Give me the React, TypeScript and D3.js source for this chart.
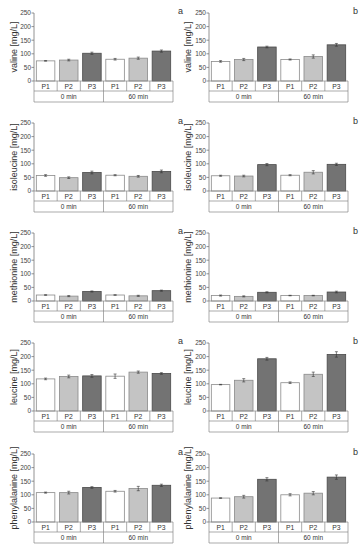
import React from "react";
import * as d3 from "d3";

const times = ["0 min", "60 min"];
const products = ["P1", "P2", "P3"];
const yTicks = [0, 50, 100, 150, 200, 250];
const aminoAcids = ["valine", "isoleucine", "methionine", "leucine", "phenylalanine"];
const panelLetters = ["a", "b"];

// values: [0min P1,P2,P3, 60min P1,P2,P3]
const valineA = [74, 77, 102, 80, 84, 110];
const valineAErr = [1, 3, 4, 3, 4, 4];
const valineB = [72, 79, 125, 79, 90, 133];
const valineBErr = [3, 4, 3, 2, 6, 5];
const isoleucineA = [57, 49, 68, 58, 54, 72];
const isoleucineAErr = [3, 3, 5, 2, 3, 5];
const isoleucineB = [56, 55, 97, 58, 69, 98];
const isoleucineBErr = [2, 3, 4, 2, 6, 4];
const methionineA = [22, 18, 35, 22, 19, 38];
const methionineAErr = [1, 2, 2, 1, 2, 2];
const methionineB = [20, 17, 32, 20, 20, 33];
const methionineBErr = [2, 2, 2, 1, 1, 3];
const leucineA = [118, 127, 129, 128, 143, 138];
const leucineAErr = [3, 5, 5, 8, 4, 3];
const leucineB = [97, 113, 192, 104, 135, 208];
const leucineBErr = [1, 6, 5, 3, 8, 10];
const phenylalanineA = [108, 108, 127, 113, 123, 135];
const phenylalanineAErr = [2, 5, 3, 3, 8, 4];
const phenylalanineB = [88, 93, 157, 100, 106, 165];
const phenylalanineBErr = [1, 5, 6, 4, 6, 8];

const seriesA = [valineA, isoleucineA, methionineA, leucineA, phenylalanineA];
const errA = [valineAErr, isoleucineAErr, methionineAErr, leucineAErr, phenylalanineAErr];
const seriesB = [valineB, isoleucineB, methionineB, leucineB, phenylalanineB];
const errB = [valineBErr, isoleucineBErr, methionineBErr, leucineBErr, phenylalanineBErr];

const fills = ["#ffffff", "#c4c4c4", "#737373"];
const strokes = ["#8a8a8a", "#8a8a8a", "#4a4a4a"];
const FONT = "Liberation Sans, Arial, sans-serif";

function Panel({ name, values, errs, letter, x0, top, titleX }) {
  const width = 139;
  const bottom = top + 68;
  const slots = times.flatMap((t) => products.map((p) => `${t}|${p}`));
  const x = d3.scaleBand().domain(slots).range([x0, x0 + width]).paddingInner(0.2).paddingOuter(0.1);
  const xs = d3.scaleBand().domain(slots).range([x0, x0 + width]);
  const xg = d3.scaleBand().domain(times).range([x0, x0 + width]);
  const y = d3.scaleLinear().domain([0, 250]).range([bottom, top]);
  const row1 = bottom + 10;
  const row2 = bottom + 21;
  return (
    <g>
      {/* y axis */}
      <line x1={x0} x2={x0} y1={top} y2={bottom} stroke="#777" strokeWidth={0.8} />
      {yTicks.map((t) => (
        <g key={t}>
          <line x1={x0 - 2.5} x2={x0} y1={y(t)} y2={y(t)} stroke="#777" strokeWidth={0.8} />
          <text x={x0 - 3} y={y(t) + 2.3} fontSize={6.5} textAnchor="end" fill="#444" fontFamily={FONT}>
            {t}
          </text>
        </g>
      ))}
      <text
        transform={`translate(${titleX},${(top + bottom) / 2}) rotate(-90)`}
        textAnchor="middle"
        fontSize={9}
        fill="#333"
        fontFamily={FONT}
      >
        {name} [mg/L]
      </text>
      <text x={x0 + width + 5} y={top + 1} fontSize={9} fill="#333" fontFamily={FONT}>
        {letter}
      </text>
      {/* bars */}
      {slots.map((s, i) => {
        const pi = i % 3;
        const v = values[i];
        const e = errs[i];
        const cx = x(s) + x.bandwidth() / 2;
        return (
          <g key={s}>
            <rect
              x={x(s)}
              y={y(v)}
              width={x.bandwidth()}
              height={bottom - y(v)}
              fill={fills[pi]}
              stroke={strokes[pi]}
              strokeWidth={0.8}
            />
            <line x1={cx} x2={cx} y1={y(v + e)} y2={y(Math.max(0, v - e))} stroke="#333" strokeWidth={0.6} />
            <line x1={cx - 1.5} x2={cx + 1.5} y1={y(v + e)} y2={y(v + e)} stroke="#333" strokeWidth={0.6} />
            <line x1={cx - 1.5} x2={cx + 1.5} y1={y(Math.max(0, v - e))} y2={y(Math.max(0, v - e))} stroke="#333" strokeWidth={0.6} />
          </g>
        );
      })}
      {/* category table */}
      <g stroke="#888" strokeWidth={0.7} fill="none">
        <line x1={x0} x2={x0 + width} y1={bottom} y2={bottom} />
        <line x1={x0} x2={x0 + width} y1={row1} y2={row1} />
        <line x1={x0} x2={x0 + width} y1={row2} y2={row2} />
        {slots.map((s) => (
          <line key={s} x1={xs(s)} x2={xs(s)} y1={bottom} y2={row1} />
        ))}
        <line x1={x0 + width} x2={x0 + width} y1={bottom} y2={row2} />
        {times.map((t) => (
          <line key={t} x1={xg(t)} x2={xg(t)} y1={row1} y2={row2} />
        ))}
      </g>
      {slots.map((s, i) => (
        <text
          key={s}
          x={xs(s) + xs.bandwidth() / 2}
          y={bottom + 7.6}
          fontSize={6.8}
          textAnchor="middle"
          fill="#333"
          fontFamily={FONT}
        >
          {products[i % 3]}
        </text>
      ))}
      {times.map((t) => (
        <text
          key={t}
          x={xg(t) + xg.bandwidth() / 2}
          y={row1 + 7.5}
          fontSize={6.5}
          textAnchor="middle"
          fill="#333"
          fontFamily={FONT}
        >
          {t}
        </text>
      ))}
    </g>
  );
}

export default function App() {
  const rowTops = [13, 123, 233, 343, 454];
  return (
    <svg
      width={363}
      height={550}
      style={{ position: "absolute", left: 0, top: 0, background: "#fff" }}
    >
      <rect width={363} height={550} fill="#fff" />
      {aminoAcids.map((aa, r) => (
        <g key={aa}>
          <Panel name={aa} values={seriesA[r]} errs={errA[r]} letter={panelLetters[0]} x0={34} top={rowTops[r]} titleX={17} />
          <Panel name={aa} values={seriesB[r]} errs={errB[r]} letter={panelLetters[1]} x0={209} top={rowTops[r]} titleX={191} />
        </g>
      ))}
    </svg>
  );
}
